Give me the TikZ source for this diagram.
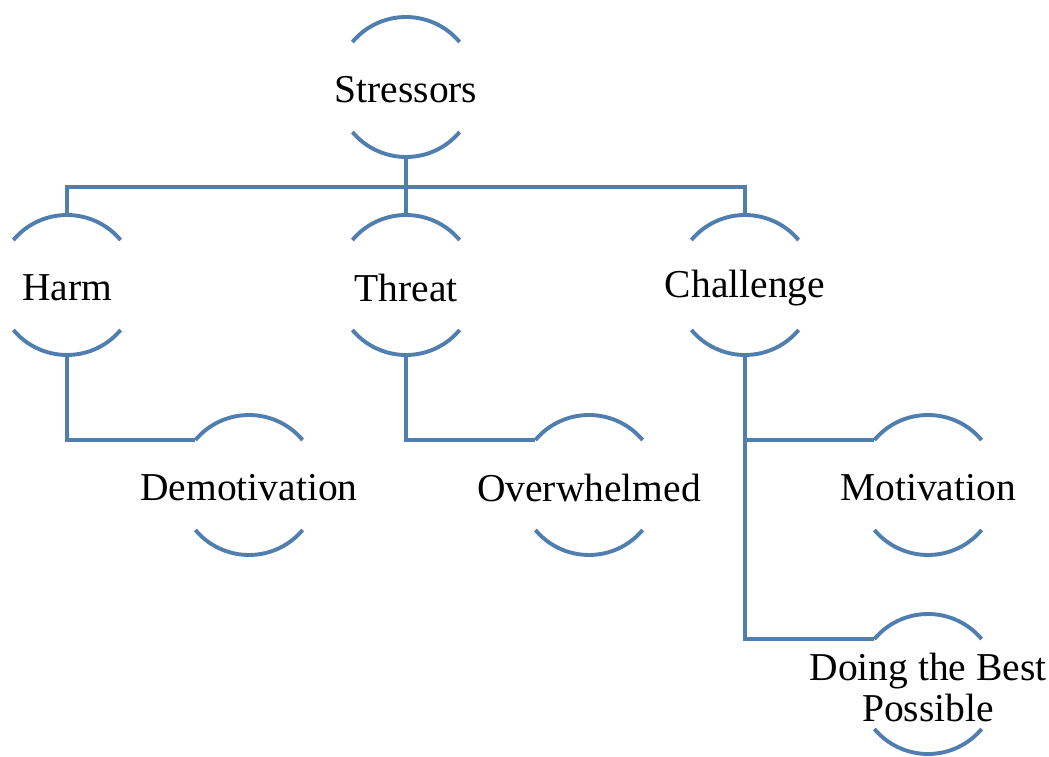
\documentclass[tikz,border=0pt]{standalone}
\usepackage{fontspec}
\setmainfont{Liberation Serif}
\usetikzlibrary{positioning}
\definecolor{stressblue}{RGB}{80,126,175}

\begin{document}
\begin{tikzpicture}[x=1pt, y=1pt,
  stressnode/.style={circle, minimum size=140pt, inner sep=0pt, outer sep=0pt},
  every label/.style={font=\fontsize{39.5}{41}\selectfont, align=center, inner sep=0pt, yshift=-3pt},
  arcline/.style={stressblue, line width=3.9pt},
  link/.style={stressblue, line width=3.9pt}]
\useasboundingbox (0,0) rectangle (1049,756);
\begin{scope}
\node [stressnode, label=center:Stressors]    (str)  at (406,669) {};
\node [stressnode, label=center:Harm]         (harm) at (67,471)  {};
\node [stressnode, label=center:Threat]       (thr)  at (406,471) {};
\node [stressnode, label=center:Challenge]    (chal) at (745,471) {};
\node [stressnode, label=center:Demotivation] (demo) at (249,271) {};
\node [stressnode, label=center:Overwhelmed]  (over) at (589,271) {};
\node [stressnode, label=center:Motivation]   (mot)  at (928,271) {};
\node [stressnode, label={center:Doing the Best\\Possible}] (best) at (928,72) {};
% open circles: top and bottom arcs only
\foreach \n in {str,harm,thr,chal,demo,over,mot,best} {
  \draw [arcline] (\n.40)  arc [start angle=40,  end angle=140, radius=70pt];
  \draw [arcline] (\n.220) arc [start angle=220, end angle=320, radius=70pt];
}
\end{scope}
\coordinate (bus) at (406,569);
\draw [link] (str.south) -- (bus);
\draw [link] (harm.north) |- (bus) -| (chal.north);
\draw [link] (thr.north) -- (bus);
\draw [link] (harm.south) |- (demo.140);
\draw [link] (thr.south) |- (over.140);
\draw [link] (chal.south) |- (best.140);
\draw [link] (chal.south |- mot.140) -- (mot.140);
\end{tikzpicture}
\end{document}
